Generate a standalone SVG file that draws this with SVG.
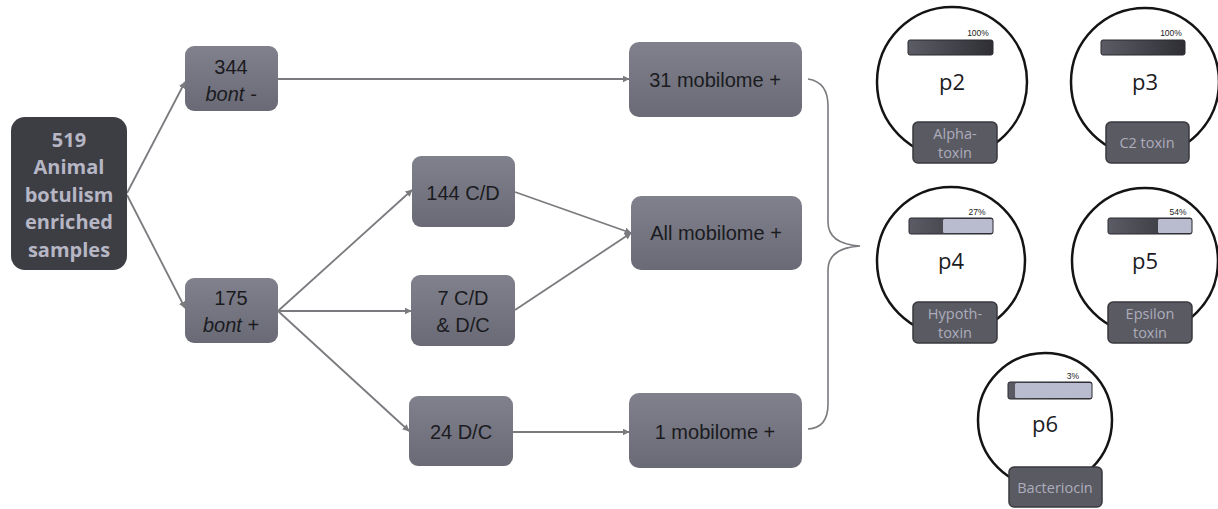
<svg xmlns="http://www.w3.org/2000/svg" width="1218" height="509" viewBox="0 0 1218 509">
<defs>
<linearGradient id="ng" x1="0" y1="0" x2="0" y2="1"><stop offset="0" stop-color="#80818c"/><stop offset="1" stop-color="#696a75"/></linearGradient>
<linearGradient id="bg" x1="0" y1="0" x2="1" y2="0"><stop offset="0" stop-color="#5c5c66"/><stop offset="1" stop-color="#2e2e34"/></linearGradient>
<marker id="ah" viewBox="0 0 10 10" refX="9" refY="5" markerWidth="7" markerHeight="7" orient="auto" markerUnits="userSpaceOnUse"><path d="M0,0 L10,5 L0,10 z" fill="#7a7a7f"/></marker>
</defs>
<style>
.n{fill:url(#ng);}
.t{font-family:"Liberation Sans",Arial,sans-serif;font-size:20px;fill:#1b1b1f;text-anchor:middle;}
.root{fill:#3d3d44;}
.rt{font-family:"Open Sans","Liberation Sans",sans-serif;font-size:20px;font-weight:bold;fill:#b6b6c4;text-anchor:middle;}
.c{fill:none;stroke:#7a7a7f;stroke-width:1.8;marker-end:url(#ah);}
.ring{fill:#ffffff;stroke:#141414;stroke-width:2.5;}
.pl{font-family:"Open Sans","Liberation Sans",sans-serif;font-size:22px;fill:#1b1b1f;text-anchor:middle;}
.lb{fill:#5a5a62;stroke:#38383e;stroke-width:1.5;}
.lt{font-family:"Open Sans","Liberation Sans",sans-serif;font-size:14.5px;fill:#adadbc;text-anchor:middle;}
.bar{fill:url(#bg);stroke:#2a2a30;stroke-width:1;}
.lite{fill:#b9bccf;}
.pc{font-family:"Liberation Sans",Arial,sans-serif;font-size:8.5px;fill:#222;text-anchor:middle;}
</style>
<rect width="1218" height="509" fill="#ffffff"/>
<g id="connectors">
<line class="c" x1="127" y1="193" x2="185" y2="82"/>
<line class="c" x1="127" y1="195" x2="185" y2="308"/>
<line class="c" x1="278" y1="79" x2="629" y2="79"/>
<line class="c" x1="278" y1="311" x2="412" y2="190"/>
<line class="c" x1="278" y1="311" x2="411" y2="311"/>
<line class="c" x1="278" y1="311" x2="409" y2="431"/>
<line class="c" x1="515" y1="192" x2="631" y2="233"/>
<line class="c" x1="515" y1="310" x2="631" y2="233"/>
<line class="c" x1="513" y1="432" x2="629" y2="432"/>
<path d="M808,79 Q828,82 828,106 L828,222 Q828,244 860,246 Q828,248 828,270 L828,404 Q828,428 808,429" fill="none" stroke="#7a7a7f" stroke-width="1.6"/>
</g>
<g id="n519"><rect class="root" x="11" y="117" width="116" height="153" rx="14"/>
<text class="rt" x="69" y="147">519</text><text class="rt" x="69" y="174">Animal</text><text class="rt" x="69" y="202">botulism</text><text class="rt" x="69" y="229">enriched</text><text class="rt" x="69" y="257">samples</text></g>
<g id="n344"><rect class="n" x="185" y="46" width="93" height="65" rx="9"/>
<text class="t" x="231" y="74">344</text><text class="t" x="231" y="101" font-style="italic">bont -</text></g>
<g id="n175"><rect class="n" x="185" y="278" width="93" height="65" rx="9"/>
<text class="t" x="231" y="305">175</text><text class="t" x="231" y="332"><tspan font-style="italic">bont</tspan> +</text></g>
<g id="n144"><rect class="n" x="412" y="156" width="103" height="71" rx="9"/>
<text class="t" x="463" y="200">144 C/D</text></g>
<g id="n7"><rect class="n" x="411" y="275" width="104" height="71" rx="9"/>
<text class="t" x="463" y="305">7 C/D</text><text class="t" x="463" y="332">&amp; D/C</text></g>
<g id="n24"><rect class="n" x="409" y="396" width="104" height="70" rx="9"/>
<text class="t" x="461" y="439">24 D/C</text></g>
<g id="n31"><rect class="n" x="629" y="42" width="173" height="75" rx="10"/>
<text class="t" x="715" y="87">31 mobilome +</text></g>
<g id="nall"><rect class="n" x="631" y="196" width="171" height="74" rx="10"/>
<text class="t" x="716" y="240">All mobilome +</text></g>
<g id="n1"><rect class="n" x="629" y="393" width="173" height="75" rx="10"/>
<text class="t" x="715" y="439">1 mobilome +</text></g>
<g id="p2"><circle class="ring" cx="952" cy="82" r="75"/>
<rect class="bar" x="908" y="40" width="85" height="15" rx="2"/>
<text class="pc" x="978" y="36">100%</text>
<text class="pl" x="952" y="90">p2</text>
<rect class="lb" x="913" y="122" width="84" height="41" rx="5"/>
<text class="lt" x="955" y="139">Alpha-</text><text class="lt" x="955" y="158">toxin</text></g>
<g id="p3"><circle class="ring" cx="1145" cy="82" r="74"/>
<rect class="bar" x="1101" y="40" width="84" height="15" rx="2"/>
<text class="pc" x="1171" y="36">100%</text>
<text class="pl" x="1145" y="90">p3</text>
<rect class="lb" x="1106" y="122" width="83" height="41" rx="5"/>
<text class="lt" x="1147" y="148">C2 toxin</text></g>
<g id="p4"><circle class="ring" cx="951" cy="261" r="74"/>
<rect class="bar" x="909" y="218" width="84" height="16" rx="2"/>
<rect class="lite" x="943" y="219" width="49.5" height="14" rx="1.5"/>
<text class="pc" x="977" y="215">27%</text>
<text class="pl" x="951" y="269">p4</text>
<rect class="lb" x="913" y="302" width="84" height="41" rx="5"/>
<text class="lt" x="955" y="319">Hypoth-</text><text class="lt" x="955" y="338">toxin</text></g>
<g id="p5"><circle class="ring" cx="1145" cy="261" r="73"/>
<rect class="bar" x="1108" y="218" width="84" height="16" rx="2"/>
<rect class="lite" x="1158" y="219" width="33.5" height="14" rx="1.5"/>
<text class="pc" x="1178" y="215">54%</text>
<text class="pl" x="1145" y="269">p5</text>
<rect class="lb" x="1108" y="302" width="84" height="41" rx="5"/>
<text class="lt" x="1150" y="319">Epsilon</text><text class="lt" x="1150" y="338">toxin</text></g>
<g id="p6"><circle class="ring" cx="1045" cy="420" r="67"/>
<rect class="bar" x="1008" y="382" width="84" height="17" rx="2"/>
<rect class="lite" x="1015" y="383" width="76.5" height="15" rx="1.5"/>
<text class="pc" x="1073" y="379">3%</text>
<text class="pl" x="1045" y="432">p6</text>
<rect class="lb" x="1009" y="467" width="93" height="40" rx="5"/>
<text class="lt" x="1055" y="493">Bacteriocin</text></g>
</svg>
